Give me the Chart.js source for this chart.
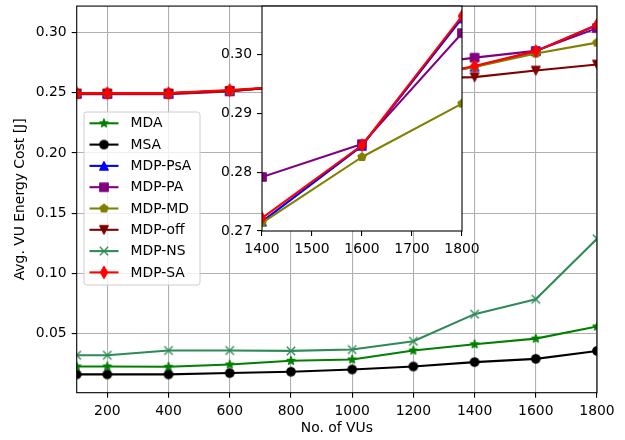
<!DOCTYPE html>
<html>
<head>
<meta charset="utf-8">
<script src="https://cdn.jsdelivr.net/npm/chart.js@4.4.1/dist/chart.umd.min.js"></script>
<style>
  html, body { margin: 0; padding: 0; background: #ffffff; }
  #wrap { position: relative; width: 625px; height: 440px; }
  #wrap canvas { position: absolute; left: 0; top: 0; }
</style>
</head>
<body>
<div id="wrap">
  <canvas id="mainChart" width="625" height="440"></canvas>
  <canvas id="zoomChart" width="625" height="440"></canvas>
</div>
<script>
// Number of vehicular users on the x axis
const vus = [100, 200, 400, 600, 800, 1000, 1200, 1400, 1600, 1800];

// Average VU energy cost [J] per scheme
const mda    = [0.0228, 0.0228, 0.0225, 0.0244, 0.0275, 0.0286, 0.0360, 0.0412, 0.0459, 0.0560];
const msa    = [0.0162, 0.0162, 0.0162, 0.0173, 0.0184, 0.0203, 0.0228, 0.0264, 0.0291, 0.0357];
const mdpPsA = [0.2495, 0.2495, 0.2495, 0.2518, 0.2555, 0.2585, 0.2620, 0.2716, 0.2845, 0.3062];
const mdpPA  = [0.2489, 0.2489, 0.2489, 0.2512, 0.2560, 0.2620, 0.2725, 0.2792, 0.2848, 0.3037];
const mdpMD  = [0.2495, 0.2495, 0.2495, 0.2516, 0.2555, 0.2580, 0.2620, 0.2714, 0.2826, 0.2917];
const mdpOff = [0.2495, 0.2495, 0.2495, 0.2516, 0.2555, 0.2580, 0.2620, 0.2630, 0.2685, 0.2735];
const mdpNS  = [0.0321, 0.0321, 0.0360, 0.0360, 0.0357, 0.0368, 0.0437, 0.0662, 0.0786, 0.1288];
const mdpSA  = [0.2497, 0.2497, 0.2497, 0.2522, 0.2555, 0.2585, 0.2620, 0.2722, 0.2846, 0.3066];

const seriesNames = ['MDA', 'MSA', 'MDP-PsA', 'MDP-PA', 'MDP-MD', 'MDP-off', 'MDP-NS', 'MDP-SA'];

// Tick labels
const xTicksMain  = [200, 400, 600, 800, 1000, 1200, 1400, 1600, 1800];
const yTicksMain  = [0.05, 0.10, 0.15, 0.20, 0.25, 0.30];
const xTicksInset = [1400, 1500, 1600, 1700, 1800];
const yTicksInset = [0.27, 0.28, 0.29, 0.30];

// Styling
const seriesValues = [mda, msa, mdpPsA, mdpPA, mdpMD, mdpOff, mdpNS, mdpSA];
const seriesColors = ['#008000', '#000000', '#0000ff', '#800080', '#808000', '#800000', '#2e8b57', '#ff0000'];
const seriesShapes = ['star', 'circle', 'triUp', 'square', 'pentagon', 'triDown', 'x', 'thinDiamond'];
const insetSeries = [2, 3, 4, 7];

const FONT = 'DejaVu Sans';
const FS = 13.9;
Chart.defaults.font.family = FONT;
Chart.defaults.font.size = FS;
Chart.defaults.color = '#000000';

function makeMarker(shape, color) {
  const c = document.createElement('canvas');
  c.width = 18; c.height = 18;
  const g = c.getContext('2d');
  g.translate(9, 9);
  const r = 4.17;
  g.lineWidth = 1.39;
  g.strokeStyle = color;
  g.fillStyle = color;
  g.lineJoin = 'round';
  g.beginPath();
  if (shape === 'circle') {
    g.arc(0, 0, r, 0, Math.PI * 2);
  } else if (shape === 'square') {
    g.rect(-r, -r, 2 * r, 2 * r);
  } else if (shape === 'triUp') {
    g.moveTo(0, -r); g.lineTo(r, r); g.lineTo(-r, r); g.closePath();
  } else if (shape === 'triDown') {
    g.moveTo(0, r); g.lineTo(r, -r); g.lineTo(-r, -r); g.closePath();
  } else if (shape === 'pentagon') {
    for (let k = 0; k < 5; k++) {
      const a = -Math.PI / 2 + k * 2 * Math.PI / 5;
      const px = r * Math.cos(a), py = r * Math.sin(a);
      if (k === 0) g.moveTo(px, py); else g.lineTo(px, py);
    }
    g.closePath();
  } else if (shape === 'star') {
    for (let k = 0; k < 10; k++) {
      const a = -Math.PI / 2 + k * Math.PI / 5;
      const rr = (k % 2 === 0) ? r : r * 0.381966;
      const px = rr * Math.cos(a), py = rr * Math.sin(a);
      if (k === 0) g.moveTo(px, py); else g.lineTo(px, py);
    }
    g.closePath();
  } else if (shape === 'thinDiamond') {
    const h = r * 1.414, w = h * 0.6;
    g.moveTo(0, -h); g.lineTo(w, 0); g.lineTo(0, h); g.lineTo(-w, 0); g.closePath();
  } else if (shape === 'x') {
    g.moveTo(-r, -r); g.lineTo(r, r); g.moveTo(-r, r); g.lineTo(r, -r);
    g.stroke();
    return c;
  }
  g.fill();
  g.stroke();
  return c;
}

const markers = seriesShapes.map((s, i) => makeMarker(s, seriesColors[i]));

function buildDataset(i) {
  return {
    label: seriesNames[i],
    data: vus.map((x, k) => ({ x: x, y: seriesValues[i][k] })),
    borderColor: seriesColors[i],
    backgroundColor: seriesColors[i],
    borderWidth: 2.08,
    borderJoinStyle: 'round',
    tension: 0,
    pointStyle: markers[i],
    pointRadius: 4,
    pointHoverRadius: 4,
    order: seriesNames.length - i
  };
}

function setTicks(list) {
  return function (scale) { scale.ticks = list.map(v => ({ value: v })); };
}

// Fixed axis box sizes, no extra room reserved for edge labels
function fixHeight(h) {
  return function (s) { s.height = h; s.paddingLeft = 0; s.paddingRight = 0; };
}
function fixWidth(w) {
  return function (s) { s.width = w; s.paddingTop = 0; s.paddingBottom = 0; };
}

// Black box around the plotting area
const framePlugin = {
  id: 'frame',
  afterDatasetsDraw(chart) {
    const a = chart.chartArea, ctx = chart.ctx;
    ctx.save();
    ctx.strokeStyle = '#000000';
    ctx.lineWidth = 1.1;
    ctx.strokeRect(a.left, a.top, a.right - a.left, a.bottom - a.top);
    ctx.restore();
  }
};

// White backdrop for the zoomed panel
const insetBackground = {
  id: 'insetBackground',
  beforeDraw(chart) {
    const a = chart.chartArea, ctx = chart.ctx;
    ctx.save();
    ctx.fillStyle = '#ffffff';
    ctx.fillRect(a.left, a.top, a.right - a.left, a.bottom - a.top);
    ctx.restore();
  }
};

// Legend with line + marker handles
const legendPlugin = {
  id: 'lineLegend',
  afterDraw(chart) {
    const ctx = chart.ctx;
    const bx = 84, by = 112, bw = 116, bh = 173, rad = 2.8;
    ctx.save();
    ctx.beginPath();
    ctx.moveTo(bx + rad, by);
    ctx.lineTo(bx + bw - rad, by);
    ctx.quadraticCurveTo(bx + bw, by, bx + bw, by + rad);
    ctx.lineTo(bx + bw, by + bh - rad);
    ctx.quadraticCurveTo(bx + bw, by + bh, bx + bw - rad, by + bh);
    ctx.lineTo(bx + rad, by + bh);
    ctx.quadraticCurveTo(bx, by + bh, bx, by + bh - rad);
    ctx.lineTo(bx, by + rad);
    ctx.quadraticCurveTo(bx, by, bx + rad, by);
    ctx.closePath();
    ctx.fillStyle = 'rgba(255,255,255,0.8)';
    ctx.fill();
    ctx.strokeStyle = '#cccccc';
    ctx.lineWidth = 1;
    ctx.stroke();

    const x0 = 89.5, x1 = 118.5, tx = 130.5, y0 = 123.3, dy = 21.3;
    ctx.font = FS + 'px "' + FONT + '"';
    ctx.textBaseline = 'middle';
    ctx.textAlign = 'left';
    seriesNames.forEach((name, i) => {
      const y = y0 + i * dy;
      ctx.beginPath();
      ctx.moveTo(x0, y);
      ctx.lineTo(x1, y);
      ctx.strokeStyle = seriesColors[i];
      ctx.lineWidth = 2.08;
      ctx.stroke();
      ctx.drawImage(markers[i], (x0 + x1) / 2 - 9, y - 9);
      ctx.fillStyle = '#000000';
      ctx.fillText(name, tx, y + 0.5);
    });
    ctx.restore();
  }
};

const gridBase = {
  color: '#b0b0b0',
  lineWidth: 1.1,
  tickColor: '#000000',
  tickWidth: 1.1,
  tickLength: 5
};

new Chart(document.getElementById('mainChart'), {
  type: 'line',
  data: { datasets: seriesNames.map((_, i) => buildDataset(i)) },
  options: {
    responsive: false,
    animation: false,
    devicePixelRatio: 1,
    layout: { padding: { left: 0, top: 5, right: 28, bottom: 0 } },
    plugins: { legend: { display: false }, tooltip: { enabled: false } },
    events: [],
    scales: {
      x: {
        type: 'linear', min: 100, max: 1800,
        afterBuildTicks: setTicks(xTicksMain),
        afterFit: fixHeight(47.3),
        grid: gridBase,
        border: { display: false },
        ticks: { padding: 5, maxRotation: 0, autoSkip: false, color: '#000', callback: v => String(v) },
        title: { display: true, text: 'No. of VUs', color: '#000', font: { size: FS }, padding: { top: 0, bottom: 3.5 } }
      },
      y: {
        type: 'linear', min: 0.001, max: 0.322,
        afterBuildTicks: setTicks(yTicksMain),
        afterFit: fixWidth(76.7),
        grid: gridBase,
        border: { display: false },
        ticks: { padding: 5, autoSkip: false, color: '#000', callback: v => v.toFixed(2) },
        title: { display: true, text: 'Avg. VU Energy Cost [J]', color: '#000', font: { size: FS }, padding: { top: 12, bottom: 0 } }
      }
    }
  },
  plugins: [framePlugin, legendPlugin]
});

const insetGrid = Object.assign({}, gridBase, { drawOnChartArea: false });

new Chart(document.getElementById('zoomChart'), {
  type: 'line',
  data: { datasets: insetSeries.map(i => buildDataset(i)) },
  options: {
    responsive: false,
    animation: false,
    devicePixelRatio: 1,
    layout: { padding: { left: 0, top: 5, right: 163, bottom: 0 } },
    plugins: { legend: { display: false }, tooltip: { enabled: false } },
    events: [],
    scales: {
      x: {
        type: 'linear', min: 1400, max: 1800,
        afterBuildTicks: setTicks(xTicksInset),
        afterFit: fixHeight(209),
        grid: insetGrid,
        border: { display: false },
        ticks: { padding: 5, maxRotation: 0, autoSkip: false, color: '#000', callback: v => String(v) }
      },
      y: {
        type: 'linear', min: 0.27, max: 0.3083,
        afterBuildTicks: setTicks(yTicksInset),
        afterFit: fixWidth(262),
        grid: insetGrid,
        border: { display: false },
        ticks: { padding: 5, autoSkip: false, color: '#000', callback: v => v.toFixed(2) }
      }
    }
  },
  plugins: [insetBackground, framePlugin]
});
</script>
</body>
</html>
